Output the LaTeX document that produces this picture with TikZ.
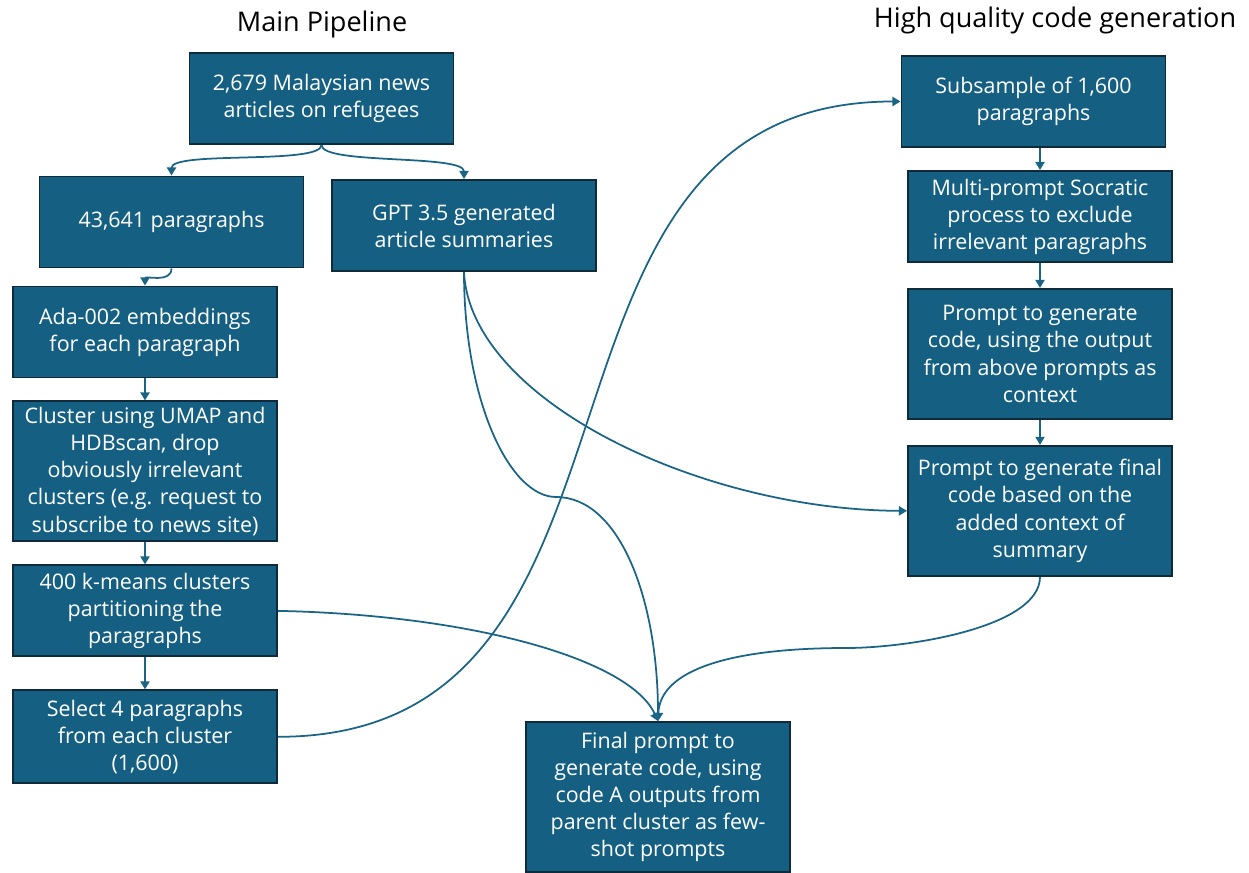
\documentclass[tikz,border=0pt]{standalone}
\usepackage{fontspec}
\setmainfont{Open Sans}
\usepackage{xcolor}
\usepackage{tikz}
\usetikzlibrary{positioning,arrows.meta}
\definecolor{boxfill}{HTML}{156082}
\definecolor{boxline}{HTML}{0E2A3B}
\definecolor{link}{HTML}{1A6585}

\begin{document}
\begin{tikzpicture}[
        every node/.style={
            rectangle,
            draw=boxline,
            fill=boxfill,
            line width=1.1pt,
            text=white,
            align=center,
            inner sep=1pt,
            minimum width=5.28cm,
            minimum height=1.82cm,
            font=\fontsize{12.2}{15.4}\selectfont
        },
        arrow/.style={
            -{Triangle[width=5.2pt,length=4.6pt]},
            line width=1pt,
            color=link
        },
        heading/.style={
            draw=none,
            fill=none,
            text=black,
            minimum width=0pt,
            minimum height=0pt,
            inner sep=0pt,
            font=\fontsize{15.4}{18}\selectfont
        }
    ]
        \useasboundingbox (0,0) rectangle (24.98,-17.44);

        % Column headings
        \node[heading] (main) at (6.44, -0.48) {Main Pipeline};
        \node[heading] (hq) at (21.1, -0.40) {High quality code generation};

        % Left: main pipeline
        \node (news) at (6.43, -1.97) {2,679 Malaysian news\\articles on refugees};
        \node (paras) at (3.43, -4.44) {43,641 paragraphs};
        \node (summ) at (9.28, -4.51) {GPT 3.5 generated\\article summaries};
        \node (embed) at (2.90, -6.64) {Ada-002 embeddings\\for each paragraph};
        \node (clust) [below=0.44cm of embed, minimum height=2.80cm] {Cluster using UMAP and\\HDBscan, drop\\obviously irrelevant\\clusters (e.g. request to\\subscribe to news site)};
        \node (kmeans) [below=0.44cm of clust] {400 k-means clusters\\partitioning the\\paragraphs};
        \node (select) [below=0.64cm of kmeans, minimum height=1.86cm] {Select 4 paragraphs\\from each cluster\\(1,600)};

        % Bottom: merge point
        \node (final) at (13.16, -15.94) [minimum height=3.00cm] {Final prompt to\\generate code, using\\code A outputs from\\parent cluster as few-\\shot prompts};

        % Right: high quality code generation
        \node (subs) at (20.67, -2.03) {Subsample of 1,600\\paragraphs};
        \node (socr) at (20.80, -4.33) {Multi-prompt Socratic\\process to exclude\\irrelevant paragraphs};
        \node (ctx) [below=0.50cm of socr, minimum height=2.60cm] {Prompt to generate\\code, using the output\\from above prompts as\\context};
        \node (finalctx) [below=0.50cm of ctx, minimum height=2.60cm] {Prompt to generate final\\code based on the\\added context of\\summary};

        \draw[arrow] (news.south) .. controls +(0,-0.4) and +(0,0.5) .. (paras.north);
        \draw[arrow] (news.south) .. controls +(0,-0.4) and +(0,0.5) .. (summ.north);
        \draw[arrow] (paras.south) .. controls +(0,-0.3) and +(0,0.2) .. (embed.north);
        \draw[arrow] (embed) -- (clust);
        \draw[arrow] (clust) -- (kmeans);
        \draw[arrow] (kmeans) -- (select);

        \draw[arrow] (subs.south -| socr.north) -- (socr.north);
        \draw[arrow] (socr) -- (ctx);
        \draw[arrow] (ctx) -- (finalctx);

        % Long links across the page
        \draw[arrow] (select.east) .. controls (13.71, -14.74) and (9.85, -2.03) .. (subs.west);
        \draw[arrow] (summ.south) .. controls (9.4, -8) and (14, -10.2) .. (finalctx.west);
        \draw[arrow] (summ.south) .. controls +(0,-2.6) and (10.2, -9.94) .. (11.12, -9.94)
            .. controls (12.4, -9.94) and (13.16, -12) .. (final.north);
        \draw[arrow] (kmeans.east) .. controls (9.5, -12.3) and (12.6, -13.2) .. (final.north);
        \draw[arrow] (finalctx.south) .. controls +(0,-1.0) and (18.2, -12.96) .. (16.92, -12.96)
            .. controls (14.6, -12.96) and (13.2, -13.4) .. (final.north);
    \end{tikzpicture}
\end{document}
